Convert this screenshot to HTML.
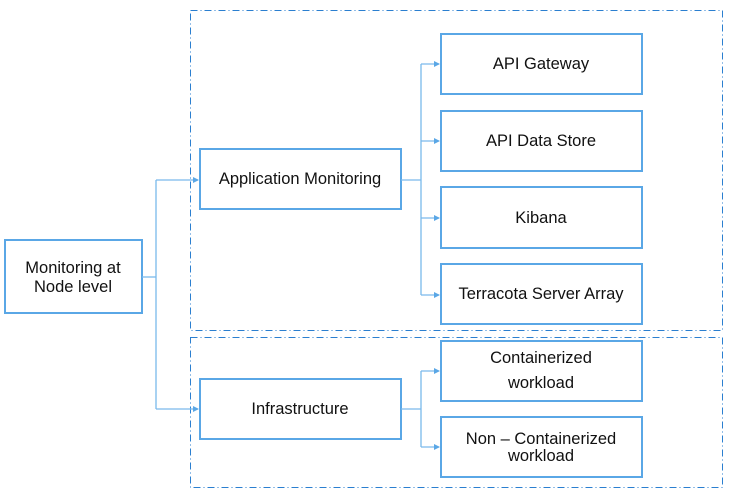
<!DOCTYPE html>
<html><head><meta charset="utf-8"><style>
html,body{margin:0;padding:0;background:#fff;}
svg{display:block;}
text{font-family:"Liberation Sans",Arial,sans-serif;font-size:16.5px;fill:#111;}
</style></head><body>
<svg width="736" height="497" viewBox="0 0 736 497" xmlns="http://www.w3.org/2000/svg">
<defs><marker id="a" markerWidth="6" markerHeight="6" refX="5" refY="3" orient="auto" markerUnits="userSpaceOnUse"><path d="M0,0 L6,3 L0,6 z" fill="#5aa7e6"/></marker></defs>
<g fill="none" stroke="#2b7fd0" stroke-width="1" stroke-dasharray="7,3,1,3">
<rect x="190.5" y="10.5" width="532" height="320"/>
<rect x="190.5" y="337.5" width="532" height="150"/>
</g>
<g fill="#fff" stroke="#5aa7e6" stroke-width="2">
<rect x="5" y="240" width="137" height="73"/>
<rect x="200" y="149" width="201" height="60"/>
<rect x="200" y="379" width="201" height="60"/>
<rect x="441" y="34" width="201" height="60"/>
<rect x="441" y="111" width="201" height="60"/>
<rect x="441" y="187" width="201" height="61"/>
<rect x="441" y="264" width="201" height="60"/>
<rect x="441" y="341" width="201" height="60"/>
<rect x="441" y="417" width="201" height="60"/>
</g>
<g fill="none" stroke="#7ab9ec" stroke-width="1.3">
<path d="M142 277 H156"/>
<path d="M156 180 V409"/>
<path d="M156 180 H198" marker-end="url(#a)"/>
<path d="M156 409 H198" marker-end="url(#a)"/>
<path d="M401 180 H421"/>
<path d="M421 64 V295"/>
<path d="M421 64 H439" marker-end="url(#a)"/>
<path d="M421 141 H439" marker-end="url(#a)"/>
<path d="M421 218 H439" marker-end="url(#a)"/>
<path d="M421 295 H439" marker-end="url(#a)"/>
<path d="M401 409 H421"/>
<path d="M421 371 V447"/>
<path d="M421 371 H439" marker-end="url(#a)"/>
<path d="M421 447 H439" marker-end="url(#a)"/>
</g>
<g text-anchor="middle">
<text x="73" y="273">Monitoring at</text>
<text x="73" y="292">Node level</text>
<text x="300" y="184">Application Monitoring</text>
<text x="300" y="414">Infrastructure</text>
<text x="541" y="69">API Gateway</text>
<text x="541" y="146">API Data Store</text>
<text x="541" y="223">Kibana</text>
<text x="541" y="299">Terracota Server Array</text>
<text x="541" y="363">Containerized</text>
<text x="541" y="388">workload</text>
<text x="541" y="444">Non – Containerized</text>
<text x="541" y="461">workload</text>
</g>
</svg>
</body></html>
